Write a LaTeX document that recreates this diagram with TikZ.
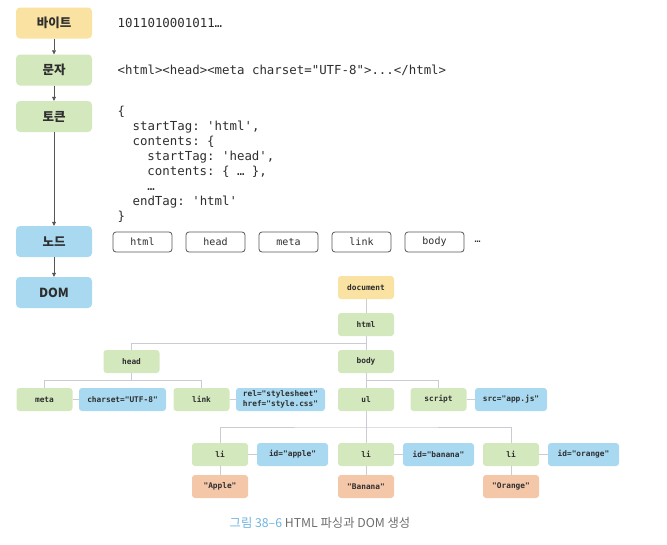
\documentclass[tikz,border=0pt]{standalone}
\usepackage{fontspec}
\setmainfont{Noto Sans CJK KR}
\setmonofont{DejaVu Sans Mono}
\usepackage{xcolor}
\definecolor{ybox}{HTML}{F9E2A2}
\definecolor{gbox}{HTML}{D4E8BE}
\definecolor{bbox}{HTML}{A8D9F0}
\definecolor{obox}{HTML}{F4C7A9}
\definecolor{tg30}{HTML}{C9CDD3}
\definecolor{tg70}{HTML}{555555}
\definecolor{txt}{HTML}{2E2E2E}
\definecolor{capblue}{HTML}{6FB3E0}
\definecolor{capgray}{HTML}{6E6E6E}
\usepackage{tikz}
\usetikzlibrary{arrows.meta,positioning,calc}

\begin{document}
\begin{tikzpicture}[
  x=1pt, y=-1pt,
  stage/.style={
    rectangle, rounded corners=4pt,
    minimum width=76pt, minimum height=31pt,
    fill=#1, text=txt,
    font=\bfseries\fontsize{12.5}{14}\selectfont
  },
  code/.style={
    inner sep=0pt, text=txt, align=left,
    font=\ttfamily\fontsize{12.4}{15}\selectfont
  },
  tagbox/.style={
    rectangle, rounded corners=3pt,
    minimum width=59pt, minimum height=20pt,
    draw=tg70, fill=white, line width=0.8pt, text=txt,
    font=\ttfamily\fontsize{10}{12}\selectfont
  },
  elem/.style={
    rectangle, rounded corners=3pt,
    minimum width=56pt, minimum height=23pt, inner sep=2pt,
    fill=#1, text=txt,
    font=\ttfamily\bfseries\fontsize{7.8}{9.5}\selectfont
  },
  attr/.style={elem=bbox, minimum width=#1},
  attr/.default=71pt,
  arr/.style={-{Triangle[length=4pt,width=4pt]}, line width=0.7pt, color=tg70},
  tree/.style={line width=1pt, color=tg30}
]
\useasboundingbox (0,0) rectangle (667,544);

% parsing stages
\node[stage=ybox] (sbyte) at (54,23) {바이트};
\node[stage=gbox] (schar) at (54,70) {문자};
\node[stage=gbox] (stoken) at (54,116.5) {토큰};
\node[stage=bbox] (snode) at (54,241.5) {노드};
\node[stage=bbox] (sdom) at (54,292.5) {DOM};
\foreach \a/\b in {sbyte/schar,schar/stoken,stoken/snode,snode/sdom} {
  \draw[arr] (\a) -- (\b);
}

\node[code, anchor=west] (bits) at (117.5,23) {1011010001011…};
\node[code, anchor=west] (chars) at (117.5,70) {<html><head><meta charset="UTF-8">...</html>};
\node[code, anchor=west] (toks) at (117.5,164) {\{\\
\hspace*{1.2em}startTag: 'html',\\
\hspace*{1.2em}contents: \{\\
\hspace*{2.4em}startTag: 'head',\\
\hspace*{2.4em}contents: \{ … \},\\
\hspace*{2.4em}…\\
\hspace*{1.2em}endTag: 'html'\\
\}};

\foreach \n [count=\i] in {html,head,meta,link,body} {
  \node[tagbox] (t\i) at ({142.5+73*(\i-1)},242) {\n};
}
\node[code, font=\ttfamily\fontsize{10}{12}\selectfont, right=10pt of t5] (tmore) {…};

% DOM tree
\node[elem=ybox] (doc) at (366,287.5) {document};
\node[elem=gbox] (html) at (366,324.5) {html};
\node[elem=gbox] (head) at (131.5,361.5) {head};
\node[elem=gbox] (body) at (366,361.5) {body};
\node[elem=gbox] (meta) at (44.5,399.5) {meta};
\node[attr=87pt] (charset) at (122.5,399.5) {charset="UTF-8"};
\node[elem=gbox] (link) at (201.5,399.5) {link};
\node[attr=89pt, align=center] (rel) at (280.5,399.5) {rel="stylesheet"\\href="style.css"};
\node[elem=gbox] (ul) at (366,399.5) {ul};
\node[elem=gbox] (script) at (438.5,399.5) {script};
\node[attr=72pt] (src) at (511,399.5) {src="app.js"};

\draw[tree] (doc) -- (html);
\draw[tree] (html) -- (body);
\coordinate (j1) at ($(html.south)!.5!(body.north)$);
\draw[tree] (head.north) |- (j1);
\coordinate (j2) at ($(head.south)!.5!(head.south |- meta.north)$);
\draw[tree] (head.south) -- (j2);
\draw[tree] (meta.north) |- (j2) -| (link.north);
\coordinate (j3) at ($(body.south)!.5!(ul.north)$);
\draw[tree] (body.south) -- (ul.north);
\draw[tree] (j3) -| (script.north);
\foreach \a/\b in {meta/charset,link/rel,script/src} {
  \draw[tree] (\a) -- (\b);
}

\foreach \i/\x/\id/\val in {1/220/apple/Apple,2/366/banana/Banana,3/511/orange/Orange} {
  \node[elem=gbox] (li\i) at (\x,454.5) {li};
  \node[attr] (id\i) at (\x+72.5,454.5) {id="\id"};
  \node[elem=obox] (val\i) at (\x,486.5) {"\val"};
  \draw[tree] (li\i) -- (id\i);
  \draw[tree] (li\i) -- (val\i);
}
\coordinate (j4) at ($(ul.south)!.5!(li2.north)$);
\draw[tree] (ul.south) -- (li2.north);
\draw[tree] (li1.north) |- (j4) -| (li3.north);

\node[font=\fontsize{12.3}{14}\selectfont, text=capgray] (cap) at (320,523)
  {\textcolor{capblue}{그림 38–6} HTML 파싱과 DOM 생성};
\end{tikzpicture}
\end{document}
